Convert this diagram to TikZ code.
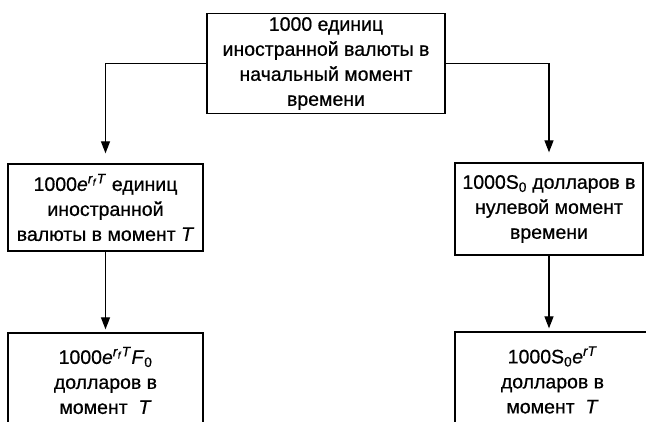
\documentclass[tikz,border=0pt]{standalone}
\usepackage{fontspec}
\setmainfont{Liberation Sans}[FakeBold=0.6]
\usetikzlibrary{arrows.meta}
\newcommand{\rfT}{\textit{e}\textsuperscript{\textit{r}\textsubscript{\textit{f}}\textit{T}}}
\tikzset{
  box/.style={draw, line width=1.3pt, inner sep=0pt, align=center,
    font=\fontsize{19.5}{25}\selectfont},
  conn/.style={line width=1.3pt, -{Triangle[width=9pt,length=12pt]}}
}
\begin{document}
\begin{tikzpicture}[x=1pt,y=-1pt]
\useasboundingbox (0,0) rectangle (646,422);
\clip (0,0) rectangle (646,422);
\fill[white] (0,0) rectangle (646,422);
\node[box, minimum width=238pt, minimum height=100pt] (top) at (326,63.5)
  {1000 единиц\\иностранной валюты в\\начальный момент\\времени};
\node[box, minimum width=195pt, minimum height=87pt] (lb) at (105.5,207.5)
  {1000\rfT{} единиц\\иностранной\\валюты в момент \textit{T}};
\node[box, minimum width=188pt, minimum height=92pt] (rb) at (549,209)
  {1000S\textsubscript{0} долларов в\\нулевой момент\\времени};
\node[box, minimum width=195pt, minimum height=95pt] (blb) at (105.5,380.5)
  {1000\rfT\textit{F}\textsubscript{0}\\долларов в\\момент \ \textit{T}};
\node[box, minimum width=195pt, minimum height=96pt] (brb) at (552.5,380)
  {1000S\textsubscript{0}\textit{e}\textsuperscript{\textit{rT}}\\долларов в\\момент \ \textit{T}};
\draw[conn, shorten >=10pt] (top.west) -| (lb.north);
\draw[conn, shorten >=10pt] (top.east) -| (rb.north);
\draw[conn, shorten >=3pt] (lb.south) -- (blb.north);
\draw[conn, shorten >=3pt] (rb.south) -- (rb.south |- brb.north);
\end{tikzpicture}
\end{document}
